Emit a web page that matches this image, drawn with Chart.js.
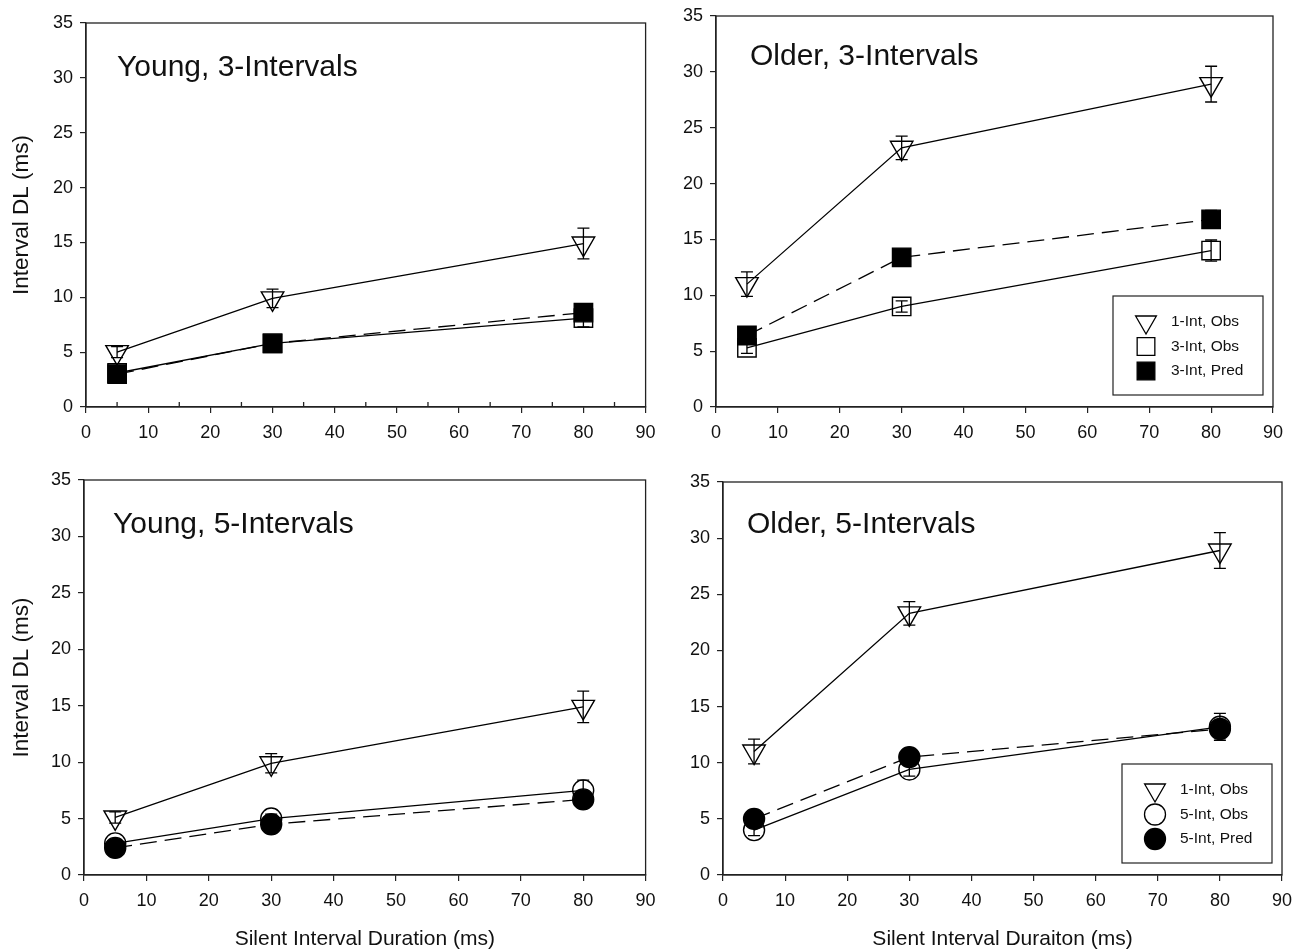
<!DOCTYPE html>
<html><head><meta charset="utf-8">
<script src="https://cdn.jsdelivr.net/npm/chart.js@4.4.1/dist/chart.umd.min.js"></script>
<style>
html,body{margin:0;padding:0;background:#fff;}
body{width:1298px;height:952px;position:relative;overflow:hidden;}
canvas{position:absolute;}
</style></head><body>
<canvas id="c1" width="660" height="470" style="left:0;top:0"></canvas>
<canvas id="c2" width="638" height="470" style="left:660px;top:0"></canvas>
<canvas id="c3" width="660" height="502" style="left:0;top:450px"></canvas>
<canvas id="c4" width="638" height="502" style="left:660px;top:450px"></canvas>
<script>
// ---------- data ----------
const silentDurations = [5, 30, 80];
const xTickValues = [0, 10, 20, 30, 40, 50, 60, 70, 80, 90];
const yTickValues = [0, 5, 10, 15, 20, 25, 30, 35];

// Young, 3-Intervals
const young3_oneIntObs = [5.0, 9.9, 14.9];
const young3_oneIntObsErr = [0.5, 0.85, 1.4];
const young3_threeIntObs = [3.1, 5.8, 8.1];
const young3_threeIntObsErr = [0.3, 0.4, 0.8];
const young3_threeIntPred = [3.0, 5.8, 8.6];
const young3_threeIntPredErr = [0, 0, 0.7];

// Older, 3-Intervals
const older3_oneIntObs = [11.0, 23.2, 28.9];
const older3_oneIntObsErr = [1.1, 1.05, 1.6];
const older3_threeIntObs = [5.3, 9.0, 14.0];
const older3_threeIntObsErr = [0.5, 0.5, 0.95];
const older3_threeIntPred = [6.4, 13.4, 16.8];
const older3_threeIntPredErr = [0, 0, 0.8];

// Young, 5-Intervals
const young5_oneIntObs = [5.1, 9.9, 14.9];
const young5_oneIntObsErr = [0.5, 0.85, 1.4];
const young5_fiveIntObs = [2.8, 5.0, 7.5];
const young5_fiveIntObsErr = [0.3, 0.4, 0.9];
const young5_fiveIntPred = [2.4, 4.5, 6.7];

// Older, 5-Intervals
const older5_oneIntObs = [11.0, 23.3, 28.9];
const older5_oneIntObsErr = [1.1, 1.05, 1.6];
const older5_fiveIntObs = [4.0, 9.4, 13.2];
const older5_fiveIntObsErr = [0.5, 0.6, 1.2];
const older5_fiveIntPred = [5.0, 10.5, 13.0];

// ---------- styling ----------
const FONT = "'Liberation Sans', Arial, Helvetica, sans-serif";
const INK = '#111';

function pts(ys) { return silentDurations.map((x, i) => ({x: x, y: ys[i]})); }

function tri(label, ys, errs) {
  return {label, data: pts(ys), errors: errs, order: 2,
    borderColor: '#000', borderWidth: 1.3, showLine: true,
    pointStyle: 'triangle', rotation: 180, pointRadius: 13,
    pointBackgroundColor: 'rgba(255,255,255,0)', pointBorderColor: '#000', pointBorderWidth: 1.4};
}
function obs(label, ys, errs, style) {
  return {label, data: pts(ys), errors: errs, order: 1,
    borderColor: '#000', borderWidth: 1.3, showLine: true,
    pointStyle: style, pointRadius: style === 'rect' ? 13 : 10.5,
    pointBackgroundColor: 'rgba(255,255,255,0)', pointBorderColor: '#000', pointBorderWidth: 1.4};
}
function pred(label, ys, errs, style) {
  return {label, data: pts(ys), errors: errs, order: 0,
    borderColor: '#000', borderWidth: 1.3, borderDash: [17, 8], showLine: true,
    pointStyle: style, pointRadius: style === 'rect' ? 13 : 10.5,
    pointBackgroundColor: '#000', pointBorderColor: '#000', pointBorderWidth: 1.4};
}

function drawMarker(ctx, style, x, y, r, fill) {
  ctx.beginPath();
  if (style === 'triangle') {
    for (let k = 0; k < 3; k++) {
      const ang = Math.PI + k * 2 * Math.PI / 3;
      const px = x + Math.sin(ang) * r, py = y - Math.cos(ang) * r;
      if (k === 0) ctx.moveTo(px, py); else ctx.lineTo(px, py);
    }
    ctx.closePath();
  } else if (style === 'rect') {
    const s = r * Math.SQRT1_2;
    ctx.rect(x - s, y - s, 2 * s, 2 * s);
  } else {
    ctx.arc(x, y, r, 0, Math.PI * 2);
  }
  if (fill) { ctx.fillStyle = '#000'; ctx.fill(); }
  ctx.strokeStyle = '#000'; ctx.lineWidth = 1.3; ctx.stroke();
}

const panelPlugin = {
  id: 'panel',
  afterDatasetsDraw(chart, args, opts) {
    const ctx = chart.ctx, a = chart.chartArea;
    const xs = chart.scales.x, ys = chart.scales.y;
    ctx.save();
    // error bars
    chart.data.datasets.forEach((ds, i) => {
      if (!ds.errors) return;
      const meta = chart.getDatasetMeta(i);
      meta.data.forEach((pt, j) => {
        const e = ds.errors[j];
        if (!e) return;
        const v = ds.data[j].y;
        const yt = ys.getPixelForValue(v + e), yb = ys.getPixelForValue(v - e);
        ctx.strokeStyle = '#000'; ctx.lineWidth = 1.3; ctx.setLineDash([]);
        ctx.beginPath();
        ctx.moveTo(pt.x, yt); ctx.lineTo(pt.x, yb);
        ctx.moveTo(pt.x - 6, yt); ctx.lineTo(pt.x + 6, yt);
        ctx.moveTo(pt.x - 6, yb); ctx.lineTo(pt.x + 6, yb);
        ctx.stroke();
      });
    });
    // frame
    ctx.strokeStyle = '#222'; ctx.lineWidth = 1.3;
    ctx.strokeRect(a.left, a.top, a.right - a.left, a.bottom - a.top);
    // inward minor ticks
    if (opts.minorX) {
      ctx.beginPath();
      opts.minorX.forEach(v => {
        const px = xs.getPixelForValue(v);
        ctx.moveTo(px, a.bottom); ctx.lineTo(px, a.bottom - 5);
      });
      ctx.stroke();
    }
    // panel title
    ctx.fillStyle = INK;
    ctx.font = '30px ' + FONT;
    ctx.textBaseline = 'middle'; ctx.textAlign = 'left';
    ctx.fillText(opts.title, a.left + opts.titleDx, a.top + opts.titleDy);
    // legend
    if (opts.legend) {
      const bw = 150, bh = 99;
      const bx = a.right - 10 - bw, by = a.bottom - 12 - bh;
      ctx.fillStyle = '#fff'; ctx.fillRect(bx, by, bw, bh);
      ctx.strokeStyle = '#222'; ctx.lineWidth = 1.2;
      ctx.strokeRect(bx, by, bw, bh);
      const dsOrdered = chart.data.datasets.slice().sort((p, q) => q.order - p.order);
      dsOrdered.forEach((ds, k) => {
        const cy = by + 26 + k * 24.5;
        const r = ds.pointStyle === 'triangle' ? 12 : (ds.pointStyle === 'rect' ? 12.5 : 10.5);
        drawMarker(ctx, ds.pointStyle, bx + 33, cy, r, ds.pointBackgroundColor === '#000');
        ctx.fillStyle = INK; ctx.font = '15.5px ' + FONT;
        ctx.textBaseline = 'middle';
        ctx.fillText(ds.label, bx + 58, cy);
      });
    }
    ctx.restore();
  }
};

function makeChart(id, datasets, cfg) {
  return new Chart(document.getElementById(id), {
    type: 'scatter',
    data: {datasets},
    plugins: [panelPlugin],
    options: {
      responsive: false, animation: false, devicePixelRatio: 1,
      layout: {padding: {top: cfg.padTop, right: cfg.padRight, left: 0, bottom: 0}},
      plugins: {legend: {display: false}, tooltip: {enabled: false},
        panel: {title: cfg.title, titleDx: cfg.titleDx, titleDy: cfg.titleDy, legend: cfg.legend, minorX: cfg.minorX}},
      scales: {
        x: {type: 'linear', min: 0, max: 90,
          afterBuildTicks: s => { s.ticks = xTickValues.map(v => ({value: v})); },
          afterFit: s => { s.height = cfg.xHeight; s.paddingLeft = 0; s.paddingRight = 0; },
          grid: {drawOnChartArea: false, drawTicks: true, tickLength: 6, color: '#222', lineWidth: 1.2},
          border: {display: true, color: '#222', width: 1.3},
          ticks: {color: INK, font: {family: FONT, size: 18}, padding: 9, maxRotation: 0},
          title: {display: !!cfg.xTitle, text: cfg.xTitle || '', color: INK,
            font: {family: FONT, size: 21}, padding: {top: 0, bottom: 0}}
        },
        y: {type: 'linear', min: 0, max: 35,
          afterBuildTicks: s => { s.ticks = yTickValues.map(v => ({value: v})); },
          afterFit: s => { s.width = cfg.yWidth; s.paddingTop = 0; s.paddingBottom = 0; },
          grid: {drawOnChartArea: false, drawTicks: true, tickLength: 6, color: '#222', lineWidth: 1.2},
          border: {display: true, color: '#222', width: 1.3},
          ticks: {color: INK, font: {family: FONT, size: 18}, padding: 7},
          title: {display: !!cfg.yTitle, text: cfg.yTitle || '', color: INK,
            font: {family: FONT, size: 22.5}, padding: {top: 8, bottom: 0}}
        }
      }
    }
  });
}

makeChart('c1', [
  tri('1-Int, Obs', young3_oneIntObs, young3_oneIntObsErr),
  obs('3-Int, Obs', young3_threeIntObs, young3_threeIntObsErr, 'rect'),
  pred('3-Int, Pred', young3_threeIntPred, young3_threeIntPredErr, 'rect')
], {padTop: 23, padRight: 12, xHeight: 63, yWidth: 86, yTitle: 'Interval DL (ms)',
    title: 'Young, 3-Intervals', titleDx: 31, titleDy: 45, minorX: [5, 15, 25, 35, 45, 55, 65, 75, 85]});

makeChart('c2', [
  tri('1-Int, Obs', older3_oneIntObs, older3_oneIntObsErr),
  obs('3-Int, Obs', older3_threeIntObs, older3_threeIntObsErr, 'rect'),
  pred('3-Int, Pred', older3_threeIntPred, older3_threeIntPredErr, 'rect')
], {padTop: 16, padRight: 25, xHeight: 63, yWidth: 56,
    title: 'Older, 3-Intervals', titleDx: 34, titleDy: 41, legend: true});

makeChart('c3', [
  tri('1-Int, Obs', young5_oneIntObs, young5_oneIntObsErr),
  obs('5-Int, Obs', young5_fiveIntObs, young5_fiveIntObsErr, 'circle'),
  pred('5-Int, Pred', young5_fiveIntPred, null, 'circle')
], {padTop: 30, padRight: 12, xHeight: 77, yWidth: 84, yTitle: 'Interval DL (ms)',
    xTitle: 'Silent Interval Duration (ms)',
    title: 'Young, 5-Intervals', titleDx: 29, titleDy: 45});

makeChart('c4', [
  tri('1-Int, Obs', older5_oneIntObs, older5_oneIntObsErr),
  obs('5-Int, Obs', older5_fiveIntObs, older5_fiveIntObsErr, 'circle'),
  pred('5-Int, Pred', older5_fiveIntPred, null, 'circle')
], {padTop: 32, padRight: 16, xHeight: 77, yWidth: 63,
    xTitle: 'Silent Interval Duraiton (ms)',
    title: 'Older, 5-Intervals', titleDx: 24, titleDy: 43, legend: true});
</script>
</body></html>
